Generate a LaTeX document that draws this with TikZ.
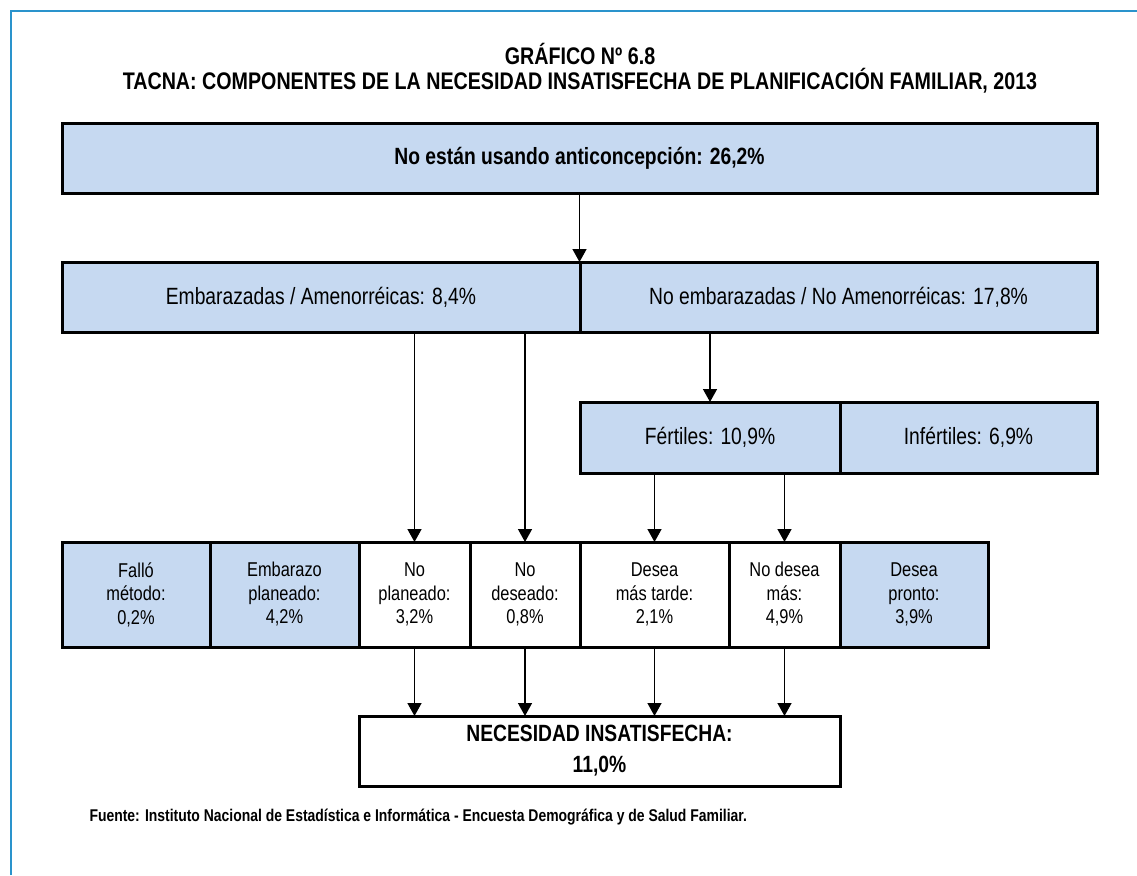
\documentclass[tikz,border=0pt]{standalone}
\usepackage{fontspec}
\setmainfont[FakeStretch=0.82]{Liberation Sans}
\usetikzlibrary{arrows.meta}
\definecolor{boxblue}{HTML}{C6D9F1}
\definecolor{frameblue}{HTML}{2A93CC}
\begin{document}
\begin{tikzpicture}[x=1pt,y=-1pt,
  box/.style={draw=black, line width=3pt, inner sep=0pt, outer sep=0pt, anchor=north west, align=center, text=black},
  bbox/.style={box, fill=boxblue},
  wbox/.style={box, fill=white},
  big/.style={font=\fontsize{23.5}{27}\selectfont},
  bigb/.style={font=\fontsize{23.5}{31}\selectfont\bfseries},
  titlef/.style={font=\fontsize{24}{27}\selectfont\bfseries},
  small/.style={font=\fontsize{20}{23.5}\selectfont},
  arr/.style={line width=1.5pt, -{Triangle[width=14pt,length=13pt]}},
  frame/.style={draw=frameblue, line width=2pt}]
\useasboundingbox (0,0) rectangle (1137,875);
\fill[white] (0,0) rectangle (1137,875);
\draw[frame] (11,875) -- (11,11) -- (1137,11);

% titles
\node[titlef] (t1) at (580,54) {GRÁFICO Nº 6.8};
\node[titlef] (t2) at (580,81) {TACNA: COMPONENTES DE LA NECESIDAD INSATISFECHA DE PLANIFICACIÓN FAMILIAR, 2013};

% top
\node[bbox, bigb, minimum width=1035pt, minimum height=70pt] (top) at (62,123) {No están usando anticoncepción: 26,2\%};

% row 2
\node[bbox, big, minimum width=518pt, minimum height=70pt] (emb) at (62,262) {Embarazadas / Amenorréicas: 8,4\%};
\node[bbox, big, minimum width=517pt, minimum height=70pt] (ne) at (580,262) {No embarazadas / No Amenorréicas: 17,8\%};

% row 3
\node[bbox, big, minimum width=260pt, minimum height=71pt] (fer) at (580,402) {Fértiles: 10,9\%};
\node[bbox, big, minimum width=257pt, minimum height=71pt] (inf) at (840,402) {Infértiles: 6,9\%};

% row 4
\node[bbox, small, minimum width=148pt, minimum height=105pt] (fm) at (62,542) {Falló\\método:\\0,2\%};
\node[bbox, small, minimum width=149pt, minimum height=105pt] (ep) at (210,542) {Embarazo\\planeado:\\4,2\%};
\node[wbox, small, minimum width=111pt, minimum height=105pt] (np) at (359,542) {No\\planeado:\\3,2\%};
\node[wbox, small, minimum width=110pt, minimum height=105pt] (nd) at (470,542) {No\\deseado:\\0,8\%};
\node[wbox, small, minimum width=149pt, minimum height=105pt] (dt) at (580,542) {Desea\\más tarde:\\2,1\%};
\node[wbox, small, minimum width=111pt, minimum height=105pt] (nm) at (729,542) {No desea\\más:\\4,9\%};
\node[bbox, small, minimum width=148pt, minimum height=105pt] (dp) at (840,542) {Desea\\pronto:\\3,9\%};

% final
\node[wbox, bigb, minimum width=481pt, minimum height=70pt] (nec) at (359,716) {NECESIDAD INSATISFECHA:\\11,0\%};

% source
\node[font=\fontsize{17}{20}\selectfont\bfseries, anchor=west] (src) at (86,817) {Fuente: Instituto Nacional de Estadística e Informática - Encuesta Demográfica y de Salud Familiar.};

% arrows
\draw[arr] (top.south) -- (top.south |- emb.north);
\draw[arr] (emb.south -| np.north) -- (np.north);
\draw[arr] (emb.south -| nd.north) -- (nd.north);
\draw[arr] (ne.south -| fer.north) -- (fer.north);
\draw[arr] (fer.south -| dt.north) -- (dt.north);
\draw[arr] (fer.south -| nm.north) -- (nm.north);
\draw[arr] (np.south) -- (np.south |- nec.north);
\draw[arr] (nd.south) -- (nd.south |- nec.north);
\draw[arr] (dt.south) -- (dt.south |- nec.north);
\draw[arr] (nm.south) -- (nm.south |- nec.north);
\end{tikzpicture}
\end{document}
